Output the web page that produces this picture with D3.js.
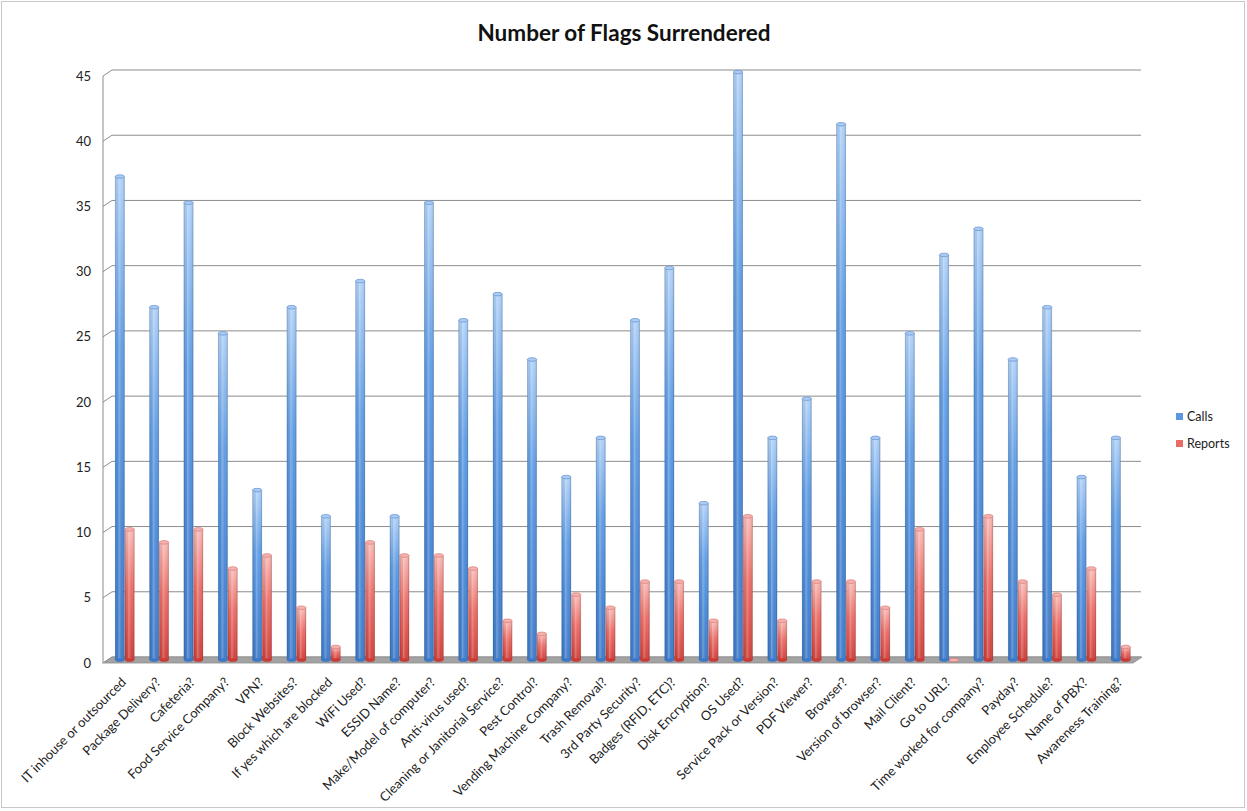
<!DOCTYPE html>
<html><head><meta charset="utf-8">
<script src="https://cdn.jsdelivr.net/npm/d3@7"></script>
<style>body{margin:0;background:#fff}svg{display:block}</style>
</head><body>
<svg id="chart" width="1247" height="811"></svg>
<script>
const categories = ["IT inhouse or outsourced","Package Delivery?","Cafeteria?","Food Service Company?","VPN?","Block Websites?","If yes which are blocked","WiFi Used?","ESSID Name?","Make/Model of computer?","Anti-virus used?","Cleaning or Janitorial Service?","Pest Control?","Vending Machine Company?","Trash Removal?","3rd Party Security?","Badges (RFID, ETC)?","Disk Encryption?","OS Used?","Service Pack or Version?","PDF Viewer?","Browser?","Version of browser?","Mail Client?","Go to URL?","Time worked for company?","Payday?","Employee Schedule?","Name of PBX?","Awareness Training?"];
const calls   = [37,27,35,25,13,27,11,29,11,35,26,28,23,14,17,26,30,12,45,17,20,41,17,25,31,33,23,27,14,17];
const reports = [10,9,10,7,8,4,1,9,8,8,7,3,2,5,4,6,6,3,11,3,6,6,4,10,0,11,6,5,7,1];
const seriesNames = ["Calls","Reports"];
const yTicks = [0,5,10,15,20,25,30,35,40,45];
const title = "Number of Flags Surrendered";

const svg = d3.select("#chart");
const font = "Lato, 'Open Sans', sans-serif";
const depth = {dx: 9, dy: -6};

// border
svg.append("rect").attr("x",1.5).attr("y",1.5).attr("width",1243).attr("height",806)
  .attr("fill","none").attr("stroke","#c8c8c8");

const x0 = d3.scaleBand().domain(categories).range([107.8, 1138.2]).paddingInner(0.43).paddingOuter(0.215);
const x1 = d3.scaleBand().domain(seriesNames).range([0, x0.bandwidth()]);
const yWall = d3.scaleLinear().domain([0,45]).range([657, 70]);
const yBar = d3.scaleLinear().domain([0,45]).range([660, 72]);

const defs = svg.append("defs");
function vgrad(id, stops){
  const g = defs.append("linearGradient").attr("id",id).attr("x1",0).attr("x2",0).attr("y1",0).attr("y2",1);
  stops.forEach(s=>g.append("stop").attr("offset",s[0]).attr("stop-color",s[1]));
}
vgrad("gCalls", [[0,"#b0d2fa"],[0.08,"#9ec6f5"],[0.35,"#629fe6"],[0.65,"#4d8cdb"],[1,"#3f7ccb"]]);
vgrad("gReports", [[0,"#fbbab6"],[0.12,"#f7a6a1"],[0.45,"#ec6f69"],[0.75,"#e05550"],[1,"#d0403a"]]);
const hg = defs.append("linearGradient").attr("id","gShade").attr("x1",0).attr("x2",1).attr("y1",0).attr("y2",0);
[[0,"#000",0.2],[0.15,"#000",0.03],[0.4,"#fff",0.25],[0.7,"#fff",0.0],[1,"#000",0.22]].forEach(s=>
  hg.append("stop").attr("offset",s[0]).attr("stop-color",s[1]).attr("stop-opacity",s[2]));

// gridlines on back wall + left wall diagonals
const grid = svg.append("g");
yTicks.forEach(t=>{
  const yb = yWall(t);
  grid.append("line").attr("x1",103+depth.dx).attr("x2",1141).attr("y1",yb).attr("y2",yb)
    .attr("stroke","#8c8c8c").attr("stroke-width",1);
  grid.append("line").attr("x1",103).attr("y1",yb-depth.dy).attr("x2",103+depth.dx).attr("y2",yb)
    .attr("stroke","#8c8c8c").attr("stroke-width",1);
});
grid.append("line").attr("x1",103).attr("x2",103).attr("y1",yWall(45)-depth.dy).attr("y2",yWall(0)-depth.dy+1)
  .attr("stroke","#8c8c8c");

// floor
const fy = yWall(0);
svg.append("polygon")
  .attr("points", [[103,fy-depth.dy],[103+depth.dx,fy],[1142,fy],[1142-depth.dx,fy-depth.dy]].map(p=>p.join(",")).join(" "))
  .attr("fill","#a3a3a3").attr("stroke","#8a8a8a").attr("stroke-width",0.8);
svg.append("line").attr("x1",103).attr("x2",1133).attr("y1",fy-depth.dy+0.5).attr("y2",fy-depth.dy+0.5)
  .attr("stroke","#d0d0d0").attr("stroke-width",1);

// y labels
svg.append("g").selectAll("text").data(yTicks).join("text")
  .attr("x",91).attr("y",d=>yWall(d)-depth.dy+4.5).attr("text-anchor","end")
  .attr("font-family",font).attr("font-size",13).attr("fill","#222").text(d=>d);

// bars
const data = categories.map((c,i)=>({c, vals:[{s:"Calls",v:calls[i]},{s:"Reports",v:reports[i]}]}));
const groups = svg.append("g").selectAll("g").data(data).join("g")
  .attr("transform",d=>`translate(${x0(d.c)},0)`);
const bars = groups.selectAll("g").data(d=>d.vals).join("g");
const bw = x1.bandwidth();
const w = bw - 0.5;
bars.append("rect")
  .attr("x",d=>x1(d.s)).attr("width",w)
  .attr("y",d=>yBar(d.v)).attr("height",d=>Math.max(0,yBar(0)-yBar(d.v)))
  .attr("fill",d=>d.s==="Calls"?"url(#gCalls)":"url(#gReports)");
bars.append("rect")
  .attr("x",d=>x1(d.s)).attr("width",w)
  .attr("y",d=>yBar(d.v)).attr("height",d=>Math.max(0,yBar(0)-yBar(d.v)))
  .attr("fill","url(#gShade)")
  .attr("stroke",d=>d.s==="Calls"?"#3a6fb5":"#b83a35").attr("stroke-opacity",0.35).attr("stroke-width",0.6);
bars.append("ellipse")
  .attr("cx",d=>x1(d.s)+w/2).attr("cy",d=>yBar(0)).attr("rx",w/2).attr("ry",1.8)
  .attr("fill",d=>d.s==="Calls"?"#3a78c8":"#cc3a35");
bars.append("ellipse")
  .attr("cx",d=>x1(d.s)+w/2).attr("cy",d=>yBar(d.v)).attr("rx",w/2).attr("ry",1.8)
  .attr("fill",d=>d.s==="Calls"?"#a9cbf5":"#f7b2ae")
  .attr("stroke",d=>d.s==="Calls"?"#6f99d0":"#d98580").attr("stroke-width",0.8);

// x labels
svg.append("g").selectAll("text").data(categories).join("text")
  .attr("transform",d=>`translate(${x0(d)+x0.bandwidth()/2+2},683) rotate(-45)`)
  .attr("text-anchor","end").attr("font-family",font).attr("font-size",13).attr("fill","#222")
  .text(d=>d);

// title
svg.append("text").attr("x",624).attr("y",41).attr("text-anchor","middle")
  .attr("font-family",font).attr("font-size",22.5).attr("font-weight","bold").attr("fill","#111").text(title);

// legend
const colors = {Calls:"#5a98e2", Reports:"#ea6a66"};
const leg = svg.append("g").selectAll("g").data(seriesNames).join("g")
  .attr("transform",(d,i)=>`translate(1176,${413+i*27})`);
leg.append("rect").attr("width",7).attr("height",7).attr("fill",d=>colors[d]);
leg.append("text").attr("x",11).attr("y",8).attr("font-family",font).attr("font-size",12.5).attr("fill","#222").text(d=>d);
</script>
</body></html>
